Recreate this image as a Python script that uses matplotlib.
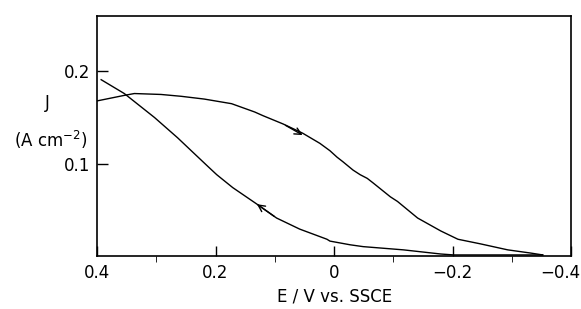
import numpy as np
import matplotlib
matplotlib.use("Agg")
import matplotlib.pyplot as plt
from matplotlib.ticker import MultipleLocator
from matplotlib.transforms import ScaledTranslation

# forward sweep (0.4 -> -0.35 V)
E_fwd = [0.400, 0.354, 0.337, 0.292, 0.258, 0.219, 0.173, 0.134, 0.120, 0.086,
         0.053, 0.024, 0.007, -0.005, -0.015, -0.032, -0.044, -0.056, -0.066,
         -0.095, -0.107, -0.141, -0.180, -0.209, -0.247, -0.293, -0.332, -0.352]
J_fwd = [0.168, 0.174, 0.176, 0.175, 0.173, 0.170, 0.165, 0.156, 0.152, 0.143,
         0.133, 0.122, 0.114, 0.107, 0.102, 0.093, 0.088, 0.084, 0.079,
         0.064, 0.059, 0.041, 0.027, 0.018, 0.013, 0.0065, 0.003, 0.001]

# reverse sweep (-0.35 -> 0.39 V)
E_rev = [-0.352, -0.202, -0.180, -0.117, -0.049, -0.027, 0.007, 0.012, 0.058,
         0.097, 0.130, 0.171, 0.198, 0.213, 0.241, 0.264, 0.303, 0.354, 0.393]
J_rev = [0.001, 0.001, 0.002, 0.0065, 0.010, 0.012, 0.016, 0.018, 0.029,
         0.041, 0.056, 0.074, 0.088, 0.097, 0.114, 0.128, 0.150, 0.176, 0.191]

x_ticks = [0.4, 0.2, 0.0, -0.2, -0.4]
x_labels = ["0.4", "0.2", "0", "\u22120.2", "\u22120.4"]
y_ticks = [0.1, 0.2]
y_labels = ["0.1", "0.2"]

fig = plt.figure(figsize=(5.81, 3.09), dpi=100)
ax = fig.add_axes([0.167, 0.172, 0.816, 0.776])

ax.plot(E_fwd, J_fwd, color="black", lw=1.0)
ax.plot(E_rev, J_rev, color="black", lw=1.0)

# direction arrows, placed on the curves
i = 10
ax.annotate("", xy=(E_fwd[i] - 0.004, J_fwd[i] - 0.0035), xytext=(E_fwd[i - 1], J_fwd[i - 1]),
            arrowprops=dict(arrowstyle="->", color="black", lw=1.0, mutation_scale=12))
i = 10
ax.annotate("", xy=(E_rev[i] + 0.004, J_rev[i] + 0.0018), xytext=(E_rev[i - 1], J_rev[i - 1]),
            arrowprops=dict(arrowstyle="->", color="black", lw=1.0, mutation_scale=12))

ax.set_xlim(0.4, -0.4)
ax.set_ylim(0, 0.26)
ax.set_xticks(x_ticks)
ax.set_xticklabels(x_labels)
ax.xaxis.set_minor_locator(MultipleLocator(0.1))
ax.set_yticks(y_ticks)
ax.set_yticklabels(y_labels)
ax.tick_params(axis="both", direction="in", labelsize=12, width=1.0, color="black")
ax.tick_params(axis="x", which="major", length=7, pad=6)
ax.tick_params(axis="x", which="minor", length=4)
ax.tick_params(axis="y", length=8, pad=5)
for s in ax.spines.values():
    s.set_linewidth(1.2)

# last x label sits left of its tick so it stays inside the figure
last = ax.get_xticklabels()[-1]
last.set_horizontalalignment("right")
last.set_transform(last.get_transform() + ScaledTranslation(9 / 100, 0, fig.dpi_scale_trans))

ax.set_xlabel("E / V vs. SSCE", fontsize=12, labelpad=4)
fig.text(47 / 581, 1 - 103 / 309, "J", fontsize=12, ha="center", va="center")
fig.text(51 / 581, 1 - 140 / 309, r"(A cm$^{-2}$)", fontsize=12, ha="center", va="center")

fig.savefig("out.png", dpi=100)
